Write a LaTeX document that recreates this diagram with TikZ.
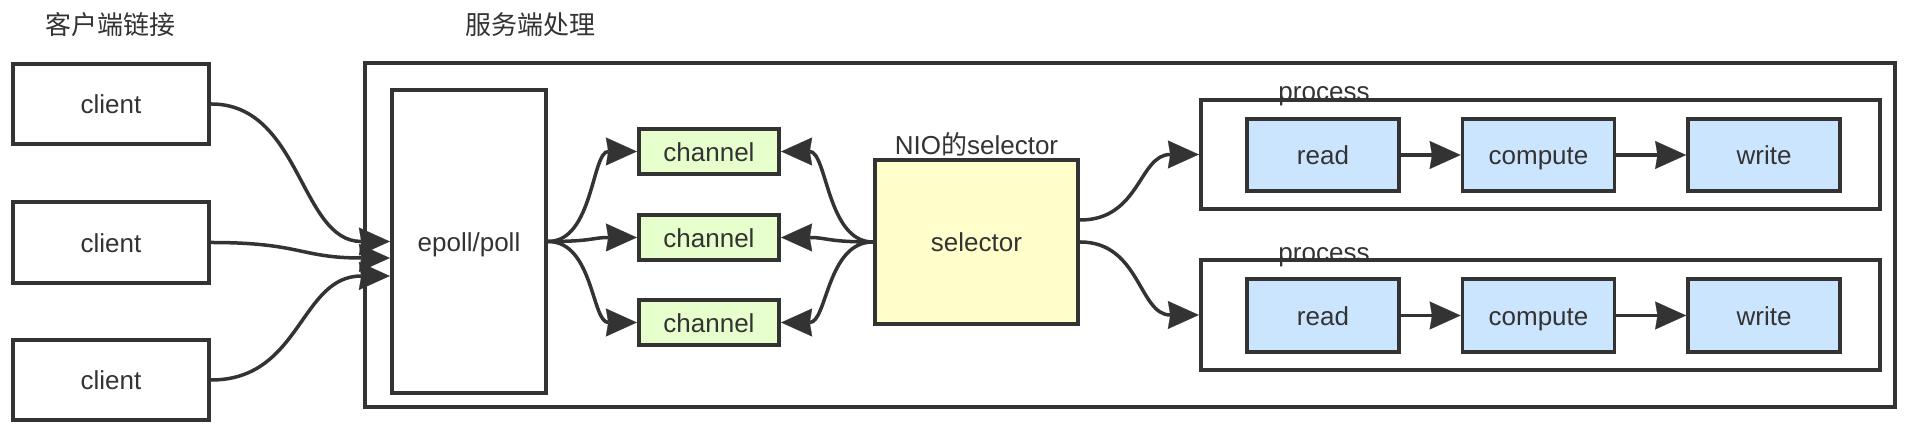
\documentclass[tikz,border=0pt]{standalone}
\usepackage{fontspec}
\setmainfont{Liberation Sans}
\newfontfamily\cjk{Noto Sans CJK SC}
\usetikzlibrary{arrows.meta,calc}
\definecolor{ink}{HTML}{333333}
\definecolor{chgreen}{HTML}{E6FFCC}
\definecolor{selyellow}{HTML}{FFFFCC}
\definecolor{opblue}{HTML}{CCE5FF}
\begin{document}
\begin{tikzpicture}[x=0.5pt,y=-0.5pt,
  font=\fontsize{13}{15.6}\selectfont, text=ink,
  box/.style={draw=ink, line width=1.9pt, fill=white, text height=1.1em, text depth=0.1em, inner sep=0pt},
  clientbox/.style={box, minimum width=98.25pt, minimum height=40.25pt},
  chanbox/.style={box, fill=chgreen, minimum width=70.25pt, minimum height=22.75pt},
  procbox/.style={box, fill=none, minimum width=339.75pt, minimum height=54.75pt},
  opbox/.style={box, fill=opblue, minimum width=76pt, minimum height=36.25pt},
  lbl/.style={anchor=base, inner sep=0pt},
  conn/.style={draw=ink, line width=1.75pt, -{Stealth[length=15.5pt,width=14pt,inset=1.2pt,fill=ink,line width=0.1pt]}}]
\useasboundingbox (0,0) rectangle (1923,431);
\fill[white] (0,0) rectangle (1923,431);

% titles
\node[lbl, font=\cjk\fontsize{13}{15.6}\selectfont] (t1) at (111,35) {客户端链接};
\node[lbl, font=\cjk\fontsize{13}{15.6}\selectfont] (t2) at (530,35) {服务端处理};

% outer server box
\node[box, fill=none, minimum width=765.25pt, minimum height=172.25pt] (outer) at (1130,235) {};

% clients
\node[clientbox] (c1) at (111,104) {client};
\node[clientbox] (c2) at (111,242.5) {client};
\node[clientbox] (c3) at (111,380) {client};

% epoll
\node[box, minimum width=77.25pt, minimum height=151.75pt] (epoll) at (469,241.5) {epoll/poll};

% channels
\node[chanbox] (ch1) at (709,151.5) {channel};
\node[chanbox] (ch2) at (709,237.5) {channel};
\node[chanbox] (ch3) at (709,322.5) {channel};

% selector
\node[box, fill=selyellow, minimum width=101.75pt, minimum height=82.25pt] (sel) at (976.5,242) {selector};
\node[lbl] (sellbl) at (976.5,155) {NIO{\cjk 的}selector};

% processes
\node[procbox] (p1) at (1540.5,154.5) {};
\node[procbox] (p2) at (1540.5,315) {};
\node[lbl] (pl1) at (1324,101) {process};
\node[lbl] (pl2) at (1324,262) {process};

\node[opbox] (r1) at (1323,155) {read};
\node[opbox] (cp1) at (1538.5,155) {compute};
\node[opbox] (w1) at (1764,155) {write};
\node[opbox] (r2) at (1323,315.5) {read};
\node[opbox] (cp2) at (1538.5,315.5) {compute};
\node[opbox] (w2) at (1764,315.5) {write};

% connectors: clients -> epoll
\draw[conn] (c1.east) .. controls +(90,0) and +(-90,0) .. (epoll.west);
\draw[conn] (c2.east) .. controls +(90,0) and +(-90,0) .. ([yshift=-8.25pt]epoll.west);
\draw[conn] (c3.east) .. controls +(90,0) and +(-90,0) .. ([yshift=-17.25pt]epoll.west);

% epoll -> channels
\draw[conn] (epoll.east) .. controls +(45,0) and +(-45,0) .. (ch1.west);
\draw[conn] (epoll.east) .. controls +(45,0) and +(-45,0) .. (ch2.west);
\draw[conn] (epoll.east) .. controls +(45,0) and +(-45,0) .. (ch3.west);

% selector -> channels
\draw[conn] (sel.west) .. controls +(-46,0) and +(46,0) .. (ch1.east);
\draw[conn] (sel.west) .. controls +(-46,0) and +(46,0) .. (ch2.east);
\draw[conn] (sel.west) .. controls +(-46,0) and +(46,0) .. (ch3.east);

% selector -> processes
\draw[conn] ([yshift=11pt]sel.east) .. controls +(60,0) and +(-60,0) .. (p1.west);
\draw[conn] (sel.east) .. controls +(60,0) and +(-60,0) .. (p2.west);

% read -> compute -> write
\draw[conn] (r1.east) -- (cp1.west);
\draw[conn] (cp1.east) -- (w1.west);
\draw[conn] (r2.east) -- (cp2.west);
\draw[conn] (cp2.east) -- (w2.west);
\end{tikzpicture}
\end{document}
